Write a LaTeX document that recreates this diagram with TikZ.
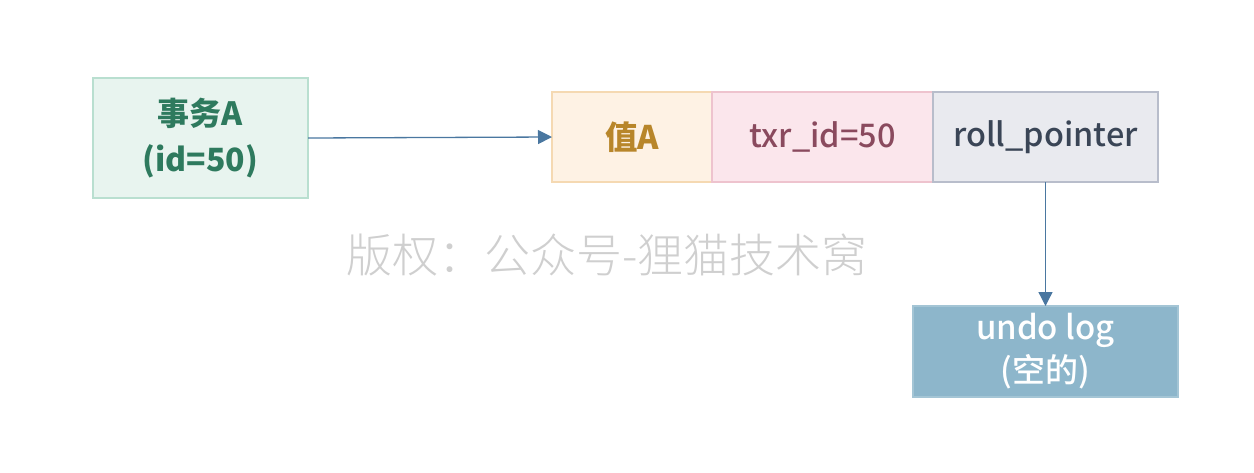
\documentclass[tikz,border=0pt]{standalone}
\usepackage{fontspec}
\setmainfont{Noto Sans CJK SC}
\newfontfamily\medfont{Noto Sans CJK SC Medium}
\newfontfamily\lightfont{Noto Sans CJK SC Light}
\usetikzlibrary{arrows.meta,positioning}
\definecolor{txgreen}{HTML}{E8F4EF}
\definecolor{txgreenline}{HTML}{B9DFD0}
\definecolor{txgreentext}{HTML}{2E7A5E}
\definecolor{valfill}{HTML}{FEF2E4}
\definecolor{valline}{HTML}{F5D9B2}
\definecolor{valtext}{HTML}{B8862A}
\definecolor{idfill}{HTML}{FBE6EC}
\definecolor{idline}{HTML}{EEC3CE}
\definecolor{idtext}{HTML}{8A4A5E}
\definecolor{ptrfill}{HTML}{E9EAEF}
\definecolor{ptrline}{HTML}{B8BDCB}
\definecolor{ptrtext}{HTML}{3A4556}
\definecolor{undofill}{HTML}{8DB6CB}
\definecolor{arrowblue}{HTML}{4A77A0}
\definecolor{markgray}{HTML}{CFCFCF}
\tikzset{%
   cell/.style={rectangle, inner sep=0pt, outer sep=0pt, minimum height=90pt, line width=1.2pt,
     font=\fontsize{32.5}{38}\selectfont\medfont},
   txbox/.style={cell, minimum width=215pt, minimum height=120pt, fill=txgreen, draw=txgreenline,
     text=txgreentext, align=center, font=\fontsize{32}{46}\selectfont\bfseries},
   undobox/.style={cell, minimum width=265pt, minimum height=91pt, fill=undofill, draw=undofill!80!white,
     text=white, align=center, font=\fontsize{33}{43}\selectfont\medfont},
   link/.style={draw=arrowblue, line width=1.3pt, -{Triangle[length=14pt, width=14pt]}},
}
\begin{document}
\begin{tikzpicture}[x=1pt, y=-1pt]
   \useasboundingbox (0,0) rectangle (1254,472);
   \node[txbox] (tx) at (200.5,138) {事务A\\(id=50)};
   \node[cell, minimum width=160pt, fill=valfill, draw=valline, text=valtext,
     font=\fontsize{32.5}{38}\selectfont\bfseries] (val) at (632,137) {值A};
   \node[cell, minimum width=221pt, fill=idfill, draw=idline, text=idtext, right=0pt of val] (trx) {txr\_id=50};
   \node[cell, minimum width=225pt, fill=ptrfill, draw=ptrline, text=ptrtext, right=0pt of trx] (ptr) {roll\_pointer};
   \node[undobox] (undo) at (1045.5,351.5) {undo log\\(空的)};
   \node[text=markgray, font=\fontsize{46}{54}\selectfont\lightfont] (mark) at (607,255) {版权：公众号-狸猫技术窝};
   % connectors
   \draw[link] (tx.east) -- (val.west);
   \draw[link] (ptr.south -| undo.north) -- (undo.north);
\end{tikzpicture}
\end{document}
